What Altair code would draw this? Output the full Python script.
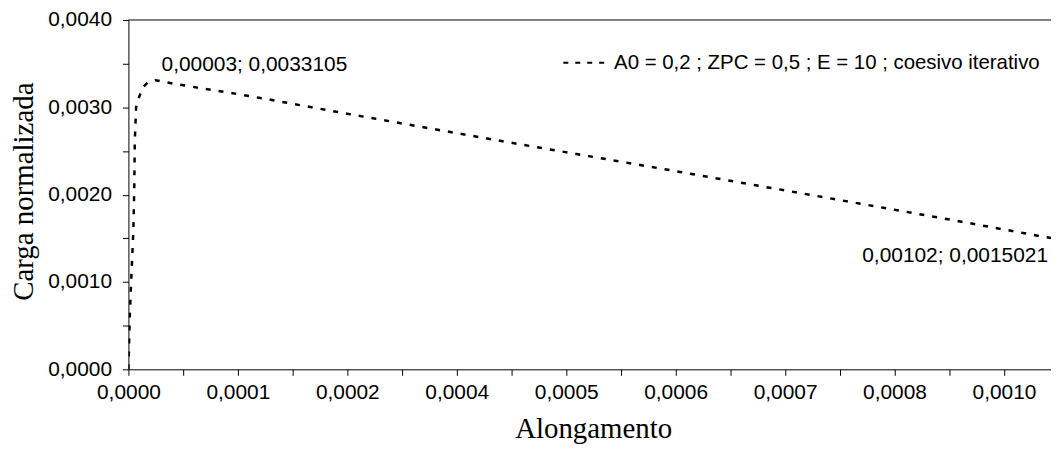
import json
import altair as alt
import pandas as pd

# ---- data ----
ALONGAMENTO = [0, 0.0000015, 0.000003, 0.0000055, 0.0000065, 0.000007, 0.0000085,
               0.0000115, 0.000016, 0.000022, 0.00003, 0.00005, 0.00011, 0.00015,
               0.00024, 0.00042, 0.00061, 0.00078, 0.00090, 0.00102]
CARGA = [0, 0.0006, 0.0010, 0.0016, 0.0021, 0.0026, 0.0030,
         0.00311, 0.00323, 0.00329, 0.0033105, 0.00327, 0.00317, 0.00310,
         0.00293, 0.00260, 0.00226, 0.00195, 0.00173, 0.0015021]

SERIES_NAME = "A0 = 0,2 ; ZPC = 0,5 ; E = 10 ; coesivo iterativo"

ANNOT_X = [0.00003, 0.00102]
ANNOT_Y = [0.0033105, 0.0015021]
ANNOT_TEXT = ["0,00003; 0,0033105", "0,00102; 0,0015021"]

X_TICK_VALUES = [0, 0.0000605, 0.000121, 0.0001815, 0.000242, 0.0003025, 0.000363,
                 0.0004235, 0.000484, 0.0005445, 0.000605, 0.0006655, 0.000726,
                 0.0007865, 0.000847, 0.0009075, 0.000968]
X_TICK_LABELS = ["0,0000", "", "0,0001", "", "0,0002", "", "0,0004", "", "0,0005", "",
                 "0,0006", "", "0,0007", "", "0,0008", "", "0,0010"]
Y_TICK_VALUES = [0, 0.0005, 0.001, 0.0015, 0.002, 0.0025, 0.003, 0.0035, 0.004]
Y_TICK_LABELS = ["0,0000", "", "0,0010", "", "0,0020", "", "0,0030", "", "0,0040"]

X_DOMAIN = [0, 0.00102]
Y_DOMAIN = [0, 0.004]

W, H = 927, 351

df = pd.DataFrame({"x": ALONGAMENTO, "y": CARGA, "s": SERIES_NAME})
ann1 = pd.DataFrame({"x": [ANNOT_X[0]], "y": [ANNOT_Y[0]], "t": [ANNOT_TEXT[0]]})
ann2 = pd.DataFrame({"x": [ANNOT_X[1]], "y": [ANNOT_Y[1]], "t": [ANNOT_TEXT[1]]})
leg = pd.DataFrame({"t": [SERIES_NAME]})


def label_expr(values, labels):
    return f"{json.dumps(labels)}[indexof({json.dumps(values)}, datum.value)]"


x_enc = alt.X("x:Q",
              scale=alt.Scale(domain=X_DOMAIN, nice=False, zero=False),
              axis=alt.Axis(title="Alongamento", values=X_TICK_VALUES,
                            labelExpr=label_expr(X_TICK_VALUES, X_TICK_LABELS),
                            grid=False, tickSize=6, labelPadding=6,
                            titleX=467, titleY=69, titleBaseline="alphabetic",
                            labelFlush=False, labelOverlap=False))
y_enc = alt.Y("y:Q",
              scale=alt.Scale(domain=Y_DOMAIN, nice=False),
              axis=alt.Axis(title="Carga normalizada", values=Y_TICK_VALUES,
                            labelExpr=label_expr(Y_TICK_VALUES, Y_TICK_LABELS),
                            grid=False, tickSize=6, labelPadding=11,
                            titleX=-96, titleY=172, titleBaseline="alphabetic",
                            titleAlign="center",
                            labelFlush=False, labelOverlap=False))

line = alt.Chart(df).mark_line(color="black", strokeWidth=2.5,
                               strokeDash=[5, 8], clip=True).encode(x=x_enc, y=y_enc)

t1 = alt.Chart(ann1).mark_text(align="left", baseline="middle", dx=6, dy=-15,
                               font="Liberation Sans", fontSize=21, color="black").encode(
    x="x:Q", y="y:Q", text="t:N")
t2 = alt.Chart(ann2).mark_text(align="right", baseline="middle", dx=-3, dy=18,
                               font="Liberation Sans", fontSize=21, color="black").encode(
    x="x:Q", y="y:Q", text="t:N")

leg_rule = alt.Chart(leg).mark_rule(color="black", strokeWidth=2, strokeDash=[5, 7]).encode(
    x=alt.value(437), x2=alt.value(483), y=alt.value(43))
leg_text = alt.Chart(leg).mark_text(align="left", baseline="middle",
                                    font="Liberation Sans", fontSize=20.5, color="black").encode(
    x=alt.value(488), y=alt.value(43), text="t:N")

top_rule = alt.Chart(leg).mark_rule(color="black", strokeWidth=1).encode(
    x=alt.value(0), x2=alt.value(W), y=alt.value(0))

chart = alt.layer(line, t1, t2, leg_rule, leg_text, top_rule).properties(
    width=W, height=H,
    autosize=alt.AutoSizeParams(type="none"),
    padding={"left": 121, "top": 11, "right": 0, "bottom": 76},
    background="white",
).configure_view(stroke=None).configure_axis(
    labelFont="Liberation Sans", labelFontSize=21, labelColor="black",
    titleFont="Liberation Serif", titleFontSize=29, titleFontWeight="normal",
    titleColor="black", domainColor="black", domainWidth=1,
    tickColor="black", tickWidth=1,
)

chart.save("out.html", embed_options={"renderer": "svg", "actions": False})
